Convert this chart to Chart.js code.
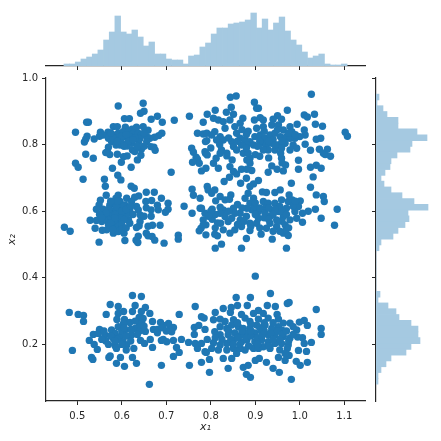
<!DOCTYPE html>
<html>
<head>
<meta charset="utf-8">
<style>
  html, body { margin: 0; padding: 0; background: #fff; }
  #wrap { position: relative; width: 441px; height: 441px; overflow: hidden; }
  canvas { position: absolute; top: 0; }
</style>
<script src="https://cdn.jsdelivr.net/npm/chart.js@4/dist/chart.umd.min.js"></script>
</head>
<body>
<div id="wrap">
  <canvas id="main" width="441" height="441" style="left:0"></canvas>
  <canvas id="histTop" width="441" height="78" style="left:0"></canvas>
  <canvas id="histRight" width="81" height="441" style="left:360px"></canvas>
</div>
<script>
// [x1, x2], one list per horizontal band
const puntosArriba = [
  [.592,.916],[.648,.924],[.642,.894],[.650,.900],[.606,.878],[.617,.878],[.666,.876],[.680,.885],[.691,.867],[.718,.873],
  [.752,.885],[.521,.867],[.525,.867],[.496,.837],[.552,.837],[.569,.837],[.522,.825],[.516,.808],[.519,.816],[.538,.817],
  [.581,.854],[.590,.854],[.608,.852],[.623,.846],[.633,.852],[.648,.854],[.659,.843],[.690,.834],[.683,.827],[.674,.822],
  [.663,.819],[.558,.829],[.570,.819],[.581,.829],[.592,.834],[.603,.839],[.615,.839],[.626,.834],[.637,.834],[.644,.829],
  [.656,.824],[.577,.809],[.587,.819],[.596,.814],[.607,.824],[.618,.824],[.587,.799],[.596,.799],[.612,.796],[.622,.804],
  [.641,.819],[.638,.809],[.656,.809],[.665,.794],[.675,.783],[.672,.792],[.570,.792],[.568,.779],[.573,.770],[.564,.776],
  [.590,.771],[.624,.784],[.629,.779],[.644,.786],[.643,.768],[.604,.764],[.612,.766],[.599,.747],[.635,.754],[.519,.771],
  [.536,.759],[.496,.744],[.502,.732],[.579,.729],[.621,.732],[.591,.708],[.598,.694],[.711,.717],[.513,.696],[.561,.696],
  [.757,.789],[.761,.777],[.767,.762],[.770,.756],[.774,.744],[.759,.747],[.770,.834],[.783,.867],[.783,.832],[.788,.809],
  [.788,.774],[.779,.721],[.844,.942],[.857,.946],[1.026,.951],[.898,.927],[.846,.912],[.903,.909],[.907,.909],[.972,.903],
  [.792,.891],[.810,.903],[.835,.897],[.851,.891],[1.010,.889],[1.017,.883],[1.033,.891],[.806,.879],[.817,.874],[.828,.869],
  [.843,.874],[.872,.879],[.866,.864],[.854,.854],[.898,.874],[.911,.881],[.918,.874],[.950,.887],[.959,.876],[.940,.876],
  [.994,.861],[1.035,.861],[1.051,.855],[.791,.834],[.809,.839],[.802,.829],[.791,.812],[.821,.824],[.832,.849],[.858,.834],
  [.884,.840],[.903,.849],[.918,.854],[.937,.859],[.952,.859],[.963,.844],[.978,.854],[.982,.839],[1.010,.844],[1.012,.829],
  [1.000,.824],[1.102,.837],[1.107,.825],[1.047,.819],[1.037,.816],[1.012,.801],[1.024,.783],[1.044,.786],[1.062,.786],[1.053,.774],
  [1.057,.770],[1.069,.765],[.997,.753],[.997,.726],[1.024,.732],[1.037,.738],[1.048,.729],[1.030,.703],[.813,.814],[.828,.814],
  [.847,.809],[.866,.819],[.877,.814],[.888,.809],[.899,.824],[.911,.829],[.922,.819],[.933,.829],[.944,.834],[.956,.824],
  [.970,.824],[.978,.819],[.989,.819],[.914,.804],[.896,.799],[.881,.799],[.869,.799],[.925,.799],[.937,.804],[.952,.799],
  [.967,.804],[.985,.799],[.993,.789],[.978,.784],[.959,.789],[.944,.784],[.929,.784],[.918,.784],[.824,.784],[.836,.774],
  [.851,.794],[.858,.784],[.873,.774],[.884,.774],[.888,.759],[.881,.754],[.888,.744],[.848,.754],[.836,.766],[.821,.774],
  [.787,.779],[.792,.769],[.806,.744],[.812,.759],[.817,.729],[.843,.734],[.851,.719],[.858,.712],[.869,.726],[.881,.726],
  [.892,.722],[.937,.736],[.929,.717],[.949,.726],[.963,.721],[.968,.739],[.959,.759],[.957,.774],[.842,.702],[.880,.699],
  [.907,.692],[.830,.689],[.789,.729],
  [.600,.825],[.615,.810],[.630,.820],[.600,.805],[.580,.820],[.550,.825],[.575,.835],[.610,.830],[.590,.810],[.625,.815],
  [.650,.835],[.605,.795],[.635,.795],[.650,.795],
  [.880,.830],[.860,.810],[.910,.810],[.905,.795],[.940,.815],[.960,.810],[.975,.835],[.990,.830],[.945,.800],[.930,.810],
  [.880,.790],[.900,.770],[.840,.820],[.820,.800],[.800,.790],[.870,.845],[.920,.840],[.950,.845],[.910,.765],[.930,.760],
  [.960,.745]
];
const puntosMedio = [
  [.563,.675],[.621,.675],[.628,.669],[.565,.648],[.655,.657],[.673,.657],[.689,.639],[.704,.624],[.740,.615],[.758,.666],
  [.761,.648],[.776,.639],[.776,.609],[.758,.594],[.704,.606],[.698,.597],[.682,.604],[.666,.604],[.666,.585],[.680,.618],
  [.667,.632],[.654,.629],[.638,.646],[.629,.642],[.592,.648],[.587,.639],[.552,.633],[.549,.619],[.543,.606],[.558,.606],
  [.573,.618],[.585,.624],[.596,.629],[.611,.639],[.622,.629],[.633,.614],[.607,.619],[.596,.609],[.585,.604],[.573,.594],
  [.562,.584],[.555,.569],[.529,.573],[.543,.572],[.566,.574],[.577,.579],[.592,.589],[.603,.599],[.618,.604],[.637,.604],
  [.641,.589],[.615,.574],[.618,.564],[.641,.569],[.639,.556],[.633,.551],[.659,.555],[.669,.558],[.686,.558],[.596,.574],
  [.585,.564],[.592,.554],[.577,.549],[.566,.544],[.556,.543],[.540,.549],[.581,.534],[.592,.539],[.605,.534],[.607,.512],
  [.549,.507],[.655,.534],[.659,.526],[.637,.525],[.632,.513],[.636,.506],[.668,.524],[.674,.513],[.695,.504],[.727,.528],
  [.727,.516],[.471,.552],[.484,.540],[.558,.589],[.570,.559],[.603,.614],[.588,.614],[.600,.584],[.581,.589],[.611,.589],
  [.867,.684],[.896,.682],[.888,.674],[.981,.684],[1.024,.672],[.792,.674],[.794,.664],[.802,.654],[.809,.664],[.821,.644],
  [.832,.634],[.845,.649],[.842,.636],[.811,.631],[.877,.639],[.884,.654],[.896,.639],[.888,.624],[.916,.658],[.925,.656],
  [.944,.656],[.956,.664],[.976,.649],[.918,.629],[.929,.624],[.944,.624],[.959,.634],[.974,.629],[.983,.634],[1.001,.631],
  [1.037,.649],[1.053,.644],[1.055,.629],[1.084,.606],[1.035,.606],[1.019,.600],[1.006,.594],[.997,.614],[.989,.599],[1.048,.579],
  [1.078,.558],[1.006,.567],[.993,.579],[.978,.574],[.963,.584],[.952,.599],[.937,.604],[.922,.609],[.907,.599],[.892,.604],
  [.881,.609],[.866,.594],[.851,.609],[.854,.594],[.828,.604],[.821,.612],[.803,.606],[.787,.594],[.779,.609],[.803,.576],
  [.783,.574],[.789,.559],[.778,.549],[.822,.564],[.828,.544],[.839,.569],[.843,.534],[.854,.544],[.869,.554],[.888,.542],
  [.888,.564],[.903,.564],[.913,.531],[.925,.549],[.933,.564],[.948,.554],[.948,.574],[.967,.559],[.963,.534],[.974,.527],
  [.969,.544],[.938,.516],[.880,.518],[.824,.501],[.810,.489],[.869,.489],[.970,.489],[.789,.529],[.809,.531],[.815,.526],
  [.847,.579],[.866,.574],[.907,.579],[.933,.584],[.922,.594],[.955,.614],[.970,.609],[.899,.614],[.832,.584],[.821,.594],
  [.774,.541],[.783,.559],
  [.585,.590],[.600,.600],[.570,.605],[.575,.565],[.605,.575],[.585,.580],[.600,.560],[.610,.605],[.620,.615],[.590,.630],
  [.575,.630],[.565,.595],[.550,.590],[.555,.580],[.580,.545],[.600,.545],[.625,.590],[.650,.585],[.655,.610],[.610,.550],
  [.860,.620],[.870,.610],[.900,.625],[.910,.610],[.930,.610],[.945,.605],[.960,.600],[.940,.590],[.920,.580],[.900,.590],
  [.880,.585],[.960,.570],[.970,.590],[.985,.615],[.990,.630],[.950,.570],[.930,.575],[.910,.550],[.890,.555],[.875,.570],
  [.840,.600],[.810,.590],[.800,.600],[.795,.585],[.815,.565],[.810,.550],[.975,.550],[.955,.540],[.940,.540],[.860,.560]
];
const puntosAbajo = [
  [.624,.347],[.644,.344],[.574,.320],[.592,.314],[.630,.317],[.653,.311],[.482,.296],[.502,.290],[.514,.287],[.514,.269],
  [.565,.290],[.604,.299],[.624,.299],[.644,.299],[.592,.293],[.663,.293],[.639,.281],[.589,.275],[.606,.275],[.648,.278],
  [.669,.269],[.765,.314],[.729,.290],[.779,.283],[.687,.266],[.705,.263],[.693,.257],[.716,.251],[.671,.245],[.680,.245],
  [.653,.239],[.645,.263],[.618,.266],[.604,.263],[.592,.253],[.577,.243],[.550,.245],[.536,.230],[.547,.233],[.562,.228],
  [.585,.233],[.607,.243],[.630,.248],[.641,.241],[.622,.228],[.596,.223],[.581,.218],[.564,.210],[.527,.212],[.538,.200],
  [.545,.185],[.585,.196],[.588,.188],[.603,.208],[.611,.198],[.610,.183],[.627,.188],[.642,.212],[.651,.203],[.664,.215],
  [.669,.191],[.489,.182],[.532,.161],[.535,.155],[.574,.165],[.571,.161],[.597,.161],[.624,.161],[.588,.143],[.606,.134],
  [.633,.143],[.662,.080],[.689,.137],[.752,.137],[.779,.146],[.716,.164],[.729,.176],[.723,.191],[.716,.212],[.734,.215],
  [.750,.206],[.689,.212],[.693,.215],[.701,.208],[.707,.243],[.712,.238],[.763,.251],[.763,.230],[.773,.257],[.765,.203],
  [.770,.188],[.779,.203],[.787,.245],[.787,.178],[.900,.405],[.934,.353],[.857,.341],[.889,.341],[.972,.323],[.976,.326],
  [.860,.317],[.846,.311],[.828,.308],[.882,.317],[.927,.317],[.945,.314],[1.037,.305],[.810,.296],[.844,.296],[.907,.302],
  [.869,.290],[.896,.293],[.918,.293],[.949,.290],[.785,.279],[.806,.274],[.821,.276],[.832,.269],[.851,.274],[.877,.279],
  [.888,.269],[.907,.276],[.929,.279],[.952,.276],[.978,.264],[.999,.267],[1.010,.272],[1.017,.257],[.963,.264],[.809,.238],
  [.821,.253],[.836,.248],[.847,.258],[.862,.253],[.873,.248],[.888,.248],[.903,.258],[.922,.258],[.937,.248],[.952,.253],
  [.961,.242],[.993,.243],[.985,.253],[.821,.229],[.839,.229],[.854,.234],[.869,.229],[.884,.234],[.899,.234],[.914,.238],
  [.929,.229],[.944,.229],[.963,.224],[.978,.219],[.995,.222],[1.006,.220],[1.010,.203],[1.026,.206],[1.048,.248],[1.048,.230],
  [.792,.215],[.806,.205],[.802,.188],[.821,.198],[.836,.203],[.851,.213],[.869,.208],[.881,.213],[.899,.208],[.914,.213],
  [.929,.208],[.944,.203],[.959,.203],[.974,.198],[.918,.193],[.933,.188],[.896,.188],[.877,.183],[.858,.173],[.847,.158],
  [.828,.158],[.817,.183],[.836,.183],[.790,.176],[.797,.155],[.839,.128],[.797,.116],[.873,.131],[.884,.137],[.880,.110],
  [.889,.101],[.900,.152],[.909,.158],[.925,.146],[.940,.128],[.954,.116],[.981,.095],[.952,.161],[.967,.152],[.976,.167],
  [.972,.188],[.997,.182],[1.015,.179],[.992,.149],[1.001,.137],[1.017,.146],[.851,.188],[.866,.188],[.907,.188],[.955,.183],
  [.967,.173],
  [.600,.240],[.610,.225],[.590,.215],[.575,.225],[.560,.240],[.620,.245],[.635,.230],[.600,.200],[.585,.210],[.620,.210],
  [.570,.200],[.555,.215],[.605,.250],[.640,.260],[.650,.255],[.630,.270],[.690,.250],[.700,.240],[.680,.235],
  [.880,.220],[.890,.225],[.905,.220],[.915,.225],[.920,.240],[.935,.235],[.910,.250],[.890,.240],[.870,.240],[.860,.220],
  [.845,.215],[.950,.240],[.960,.230],[.970,.240],[.975,.210],[.955,.215],[.940,.215],[.930,.195],[.905,.200],[.885,.195],
  [.865,.200],[.850,.200],[.825,.215],[.810,.220],[.985,.230],[.920,.265],[.890,.260],[.940,.265],[.860,.265],[.840,.240]
];

const ticksX = [0.5, 0.6, 0.7, 0.8, 0.9, 1.0, 1.1];
const ticksY = [0.2, 0.4, 0.6, 0.8, 1.0];

const centrosTop = [.4764,.4891,.5018,.5146,.5273,.5400,.5527,.5655,.5782,.5909,.6036,.6164,.6291,.6418,.6545,.6673,.6800,.6927,.7054,.7182,.7309,.7436,.7563,.7691,.7818,.7945,.8072,.8200,.8327,.8454,.8581,.8709,.8836,.8963,.9090,.9218,.9345,.9472,.9599,.9727,.9854,.9981,1.0108,1.0236,1.0363,1.0490,1.0617,1.0745,1.0872,1.0999];
const alturasTop = [1,1,2,3.5,4.5,6,8,13,17,25,17,16,18,14.5,10,12,6,6,3.5,3,3,1,5,5.5,9.5,11.5,16,19,19,21,21.5,22,23,26.5,19,23.5,18,21.5,24.5,17.5,13,10.5,7,4,5,6,1,.5,.5,1];

const centrosRight = [.9428,.9254,.9080,.8906,.8731,.8557,.8383,.8209,.8035,.7861,.7686,.7512,.7338,.7164,.6990,.6816,.6641,.6467,.6293,.6119,.5945,.5771,.5596,.5422,.5248,.5074,.4900,.4726,.4551,.4377,.4203,.4029,.3855,.3681,.3506,.3332,.3158,.2984,.2810,.2636,.2461,.2287,.2113,.1939,.1765,.1591,.1416,.1242,.1068,.0894];
const alturasRight = [1.5,.5,3.5,5.5,11,11,20.5,25.5,18,17,10.5,7.5,7,4.5,2.5,4,7.5,13,19,26,16,16.5,14.5,11,8.5,2.5,1.5,0,0,0,0,0,0,0,2,1,6,10,11.5,17.5,21,21,22,17.5,15,7.5,5,2.5,1,1];

const azul = '#1f77b4';
const azulClaro = '#a5c9e1';
const oscuro = '#262626';

Chart.defaults.font.family = '"DejaVu Sans", sans-serif';
Chart.defaults.font.size = 10;
Chart.defaults.color = oscuro;
Chart.defaults.animation = false;
Chart.defaults.responsive = false;
Chart.defaults.plugins.legend.display = false;
Chart.defaults.plugins.tooltip.enabled = false;

const marcas = { display: true, offset: false, drawOnChartArea: false, drawTicks: true, tickLength: 4, tickWidth: 1, tickColor: oscuro };
const spine = { display: true, color: oscuro, width: 1.2 };
const fijarTicks = (lista) => (scale) => { scale.ticks = lista.map((v) => ({ value: v })); };

const xMin = 0.4297, xMax = 1.1465, yMin = 0.03, yMax = 1.0;

new Chart(document.getElementById('main'), {
  type: 'scatter',
  data: {
    datasets: [{
      data: puntosArriba.concat(puntosMedio, puntosAbajo).map((p) => ({ x: p[0], y: p[1] })),
      backgroundColor: azul,
      pointRadius: 3.7,
      borderWidth: 0,
      clip: false
    }]
  },
  options: {
    layout: { padding: { top: 78, right: 76 } },
    scales: {
      x: {
        type: 'linear', min: xMin, max: xMax,
        afterBuildTicks: fijarTicks(ticksX),
        afterFit: (s) => { s.height = 40; },
        grid: marcas, border: spine,
        ticks: { padding: 5, maxRotation: 0, callback: (v) => v.toFixed(1) },
        title: { display: true, text: 'x\u2081', font: { style: 'italic', size: 11 }, padding: { top: 0, bottom: 7 } }
      },
      y: {
        type: 'linear', min: yMin, max: yMax,
        afterBuildTicks: fijarTicks(ticksY),
        afterFit: (s) => { s.width = 46; },
        grid: marcas, border: spine,
        ticks: { padding: 4, callback: (v) => v.toFixed(1) },
        title: { display: true, text: 'x\u2082', font: { style: 'italic', size: 11 }, padding: { top: 6, bottom: 0 } }
      }
    }
  }
});

new Chart(document.getElementById('histTop'), {
  type: 'bar',
  data: {
    datasets: [{
      data: centrosTop.map((c, i) => ({ x: c, y: alturasTop[i] })),
      backgroundColor: azulClaro,
      barThickness: 5.7
    }]
  },
  options: {
    layout: { padding: { top: 10, left: 46, right: 76 } },
    scales: {
      x: {
        type: 'linear', offset: false, min: xMin, max: xMax,
        afterBuildTicks: fijarTicks(ticksX),
        afterFit: (s) => { s.height = 12; },
        grid: marcas, border: spine,
        ticks: { display: false }
      },
      y: { display: false, min: 0, max: 28 }
    }
  }
});

new Chart(document.getElementById('histRight'), {
  type: 'bar',
  data: {
    datasets: [{
      data: centrosRight.map((c, i) => ({ y: c, x: alturasRight[i] })),
      backgroundColor: azulClaro,
      barThickness: 5.85
    }]
  },
  options: {
    indexAxis: 'y',
    layout: { padding: { top: 78, bottom: 40, right: 9 } },
    scales: {
      y: {
        type: 'linear', offset: false, min: yMin, max: yMax,
        afterBuildTicks: fijarTicks(ticksY),
        afterFit: (s) => { s.width = 16; },
        grid: marcas, border: spine,
        ticks: { display: false }
      },
      x: { display: false, type: 'linear', min: 0, max: 28 }
    }
  }
});
</script>
</body>
</html>
